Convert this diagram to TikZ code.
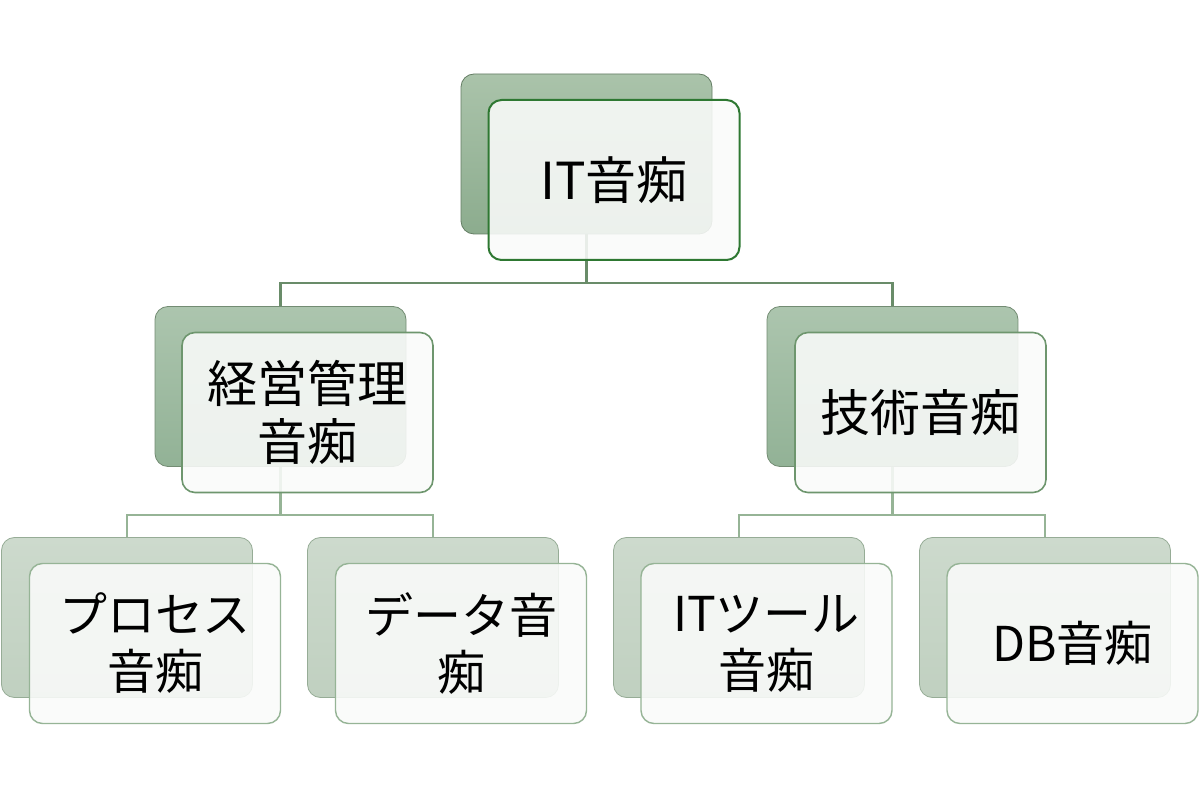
\documentclass[tikz,border=0pt]{standalone}
\usepackage{fontspec}
\setmainfont{Noto Sans CJK JP}
\definecolor{bdA}{RGB}{46,120,50}
\definecolor{bdB}{RGB}{110,150,110}
\definecolor{bdC}{RGB}{150,180,150}
\definecolor{cnA}{RGB}{105,140,105}
\definecolor{cnB}{RGB}{150,180,150}
\definecolor{bkAt}{RGB}{170,195,170}
\definecolor{bkAb}{RGB}{140,172,142}
\definecolor{bkBt}{RGB}{172,197,174}
\definecolor{bkBb}{RGB}{146,178,150}
\definecolor{bkCt}{RGB}{205,218,205}
\definecolor{bkCb}{RGB}{192,208,192}
\definecolor{obA}{RGB}{100,125,100}
\definecolor{obB}{RGB}{115,140,115}
\definecolor{obC}{RGB}{150,172,150}
\definecolor{frfill}{RGB}{250,251,250}
\tikzset{
  back/.style={draw=#1, line width=0.8pt, rounded corners=13pt, minimum width=251pt, minimum height=160pt, inner sep=0pt},
  backA/.style={back=obA, top color=bkAt, bottom color=bkAb},
  backB/.style={back=obB, top color=bkBt, bottom color=bkBb},
  backC/.style={back=obC, top color=bkCt, bottom color=bkCb},
  front/.style={draw=#1, rounded corners=13pt, minimum width=251pt, minimum height=160pt, inner sep=0pt,
    fill=frfill, fill opacity=0.88, text opacity=1, align=center, text=black},
  frontA/.style={front=bdA, line width=2pt, font=\fontsize{51}{58}\selectfont},
  frontB/.style={front=bdB, line width=1.6pt, font=\fontsize{50}{58}\selectfont},
  frontC/.style={front=bdC, line width=1.4pt, font=\fontsize{48}{57}\selectfont},
  connA/.style={draw=cnA, line width=2.4pt},
  connB/.style={draw=cnB, line width=2.4pt},
}
\begin{document}
\begin{tikzpicture}[x=1pt,y=-1pt]
\useasboundingbox[fill=white] (0,0) rectangle (1200,799);
% back rectangles
\node[backA] (b0) at (586.5,154) {};
\node[backB] (bL) at (280.5,386.5) {};
\node[backB] (bR) at (892.5,386.5) {};
\node[backC] (c1) at (127,617.5) {};
\node[backC] (c2) at (433,617.5) {};
\node[backC] (c3) at (739,617.5) {};
\node[backC] (c4) at (1045,617.5) {};
% connectors
\coordinate (h0) at (0,283);
\coordinate (h1) at (0,515);
\draw[connA] (b0.south) -- (b0.south |- h0) -| (bL.north);
\draw[connA] (b0.south |- h0) -| (bR.north);
\draw[connB] (bL.south) -- (bL.south |- h1) -| (c1.north);
\draw[connB] (bL.south |- h1) -| (c2.north);
\draw[connB] (bR.south) -- (bR.south |- h1) -| (c3.north);
\draw[connB] (bR.south |- h1) -| (c4.north);
% front rectangles
\node[frontA] (f0) at (614,180) {IT音痴};
\node[frontB] (fL) at (307.5,412.5) {経営管理\\音痴};
\node[frontB] (fR) at (920.5,412.5) {技術音痴};
\node[frontC] (g1) at (155,643.5) {プロセス\\音痴};
\node[frontC] (g2) at (461,643.5) {データ音\\痴};
\node[frontC] (g3) at (766.5,643.5) {ITツール\\音痴};
\node[frontC] (g4) at (1072.5,643.5) {DB音痴};
\end{tikzpicture}
\end{document}
